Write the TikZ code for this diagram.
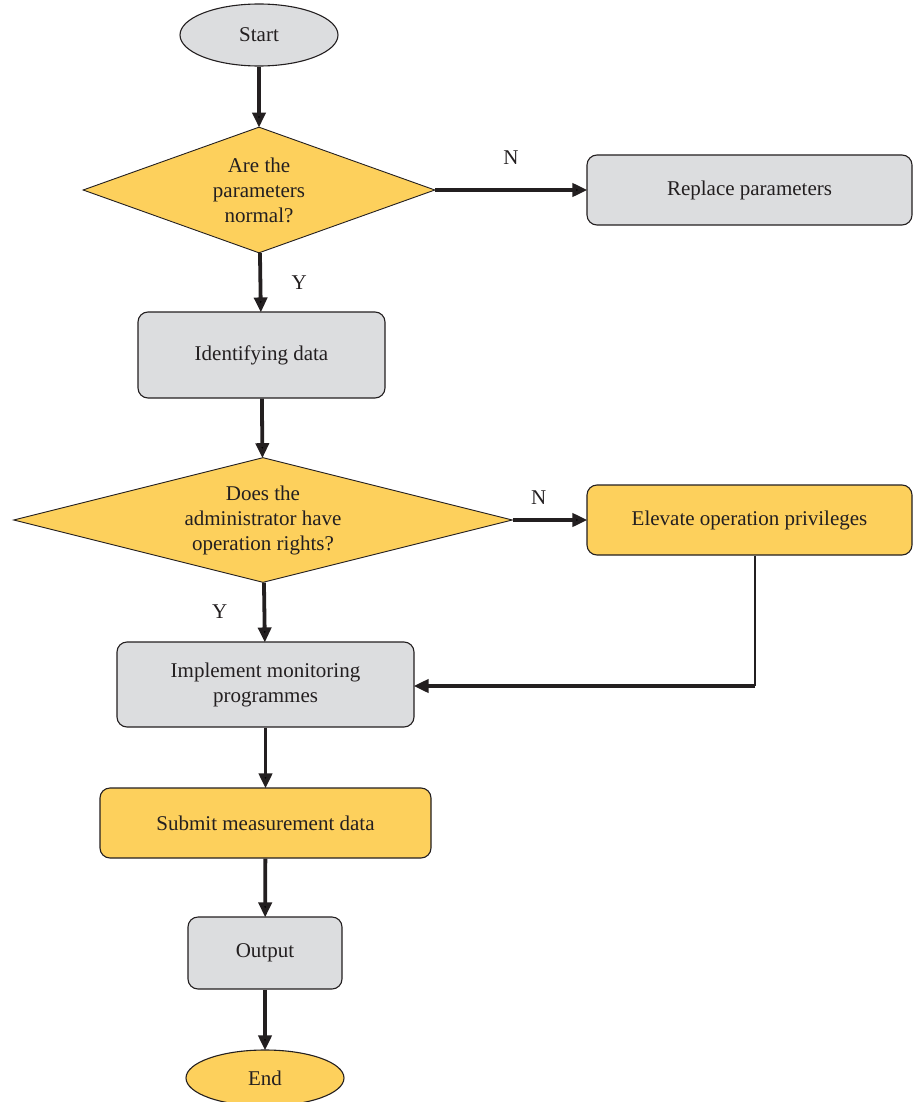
\documentclass[tikz,border=0pt]{standalone}
\usepackage{fontspec}
\setmainfont{Liberation Serif}
\usetikzlibrary{shapes.geometric,arrows.meta}
\definecolor{boxgray}{HTML}{DCDDDF}
\definecolor{boxyellow}{HTML}{FDD05C}
\definecolor{inkline}{HTML}{231F20}
\begin{document}
\begin{tikzpicture}
			[x=1pt,y=-1pt,
			every node/.style={font=\fontsize{21}{25}\selectfont,text=inkline},
			terminal/.style={ellipse,draw=inkline,line width=1.1pt,inner sep=0pt,minimum width=158pt},
			decision/.style={diamond,draw=inkline,line width=0.9pt,fill=boxyellow,inner sep=0pt,align=center},
			process/.style={rectangle,rounded corners=10pt,draw=inkline,line width=1.1pt,inner sep=0pt,align=center,minimum height=70pt},
			flow/.style={-{Triangle[length=15pt,width=13pt]},line width=3.8pt,draw=inkline,shorten >=-1pt}]
			\useasboundingbox (0,0) rectangle (913,1102);
			\node[terminal,fill=boxgray,minimum height=62pt] (start) at (259,35) {Start};
			\node[decision,minimum width=352pt,minimum height=126pt,aspect=2.8] (check) at (259,190) {Are the\\parameters\\normal?};
			\node[process,fill=boxgray,minimum width=325pt] (replace) at (749.5,190) {Replace parameters};
			\node[process,fill=boxgray,minimum width=247pt,minimum height=86pt] (identify) at (261.5,355) {Identifying data};
			\node[decision,minimum width=499pt,minimum height=125pt,aspect=4] (rights) at (263,520) {Does the\\administrator have\\operation rights?};
			\node[process,fill=boxyellow,minimum width=325pt] (elevate) at (749.5,520) {Elevate operation privileges};
			\node[process,fill=boxgray,minimum width=297pt,minimum height=85pt] (monitor) at (265.5,684.5) {Implement monitoring\\programmes};
			\node[process,fill=boxyellow,minimum width=331pt] (submit) at (265.5,823) {Submit measurement data};
			\node[process,fill=boxgray,minimum width=154pt,minimum height=72pt] (output) at (265,953) {Output};
			\node[terminal,fill=boxyellow,minimum height=56pt] (finish) at (265,1078) {End};
			\coordinate (bend) at (755,686);
			\path[flow]
			(start) edge (check)
			(check) edge node[midway,above=20pt] {N} (replace)
			(check) edge node[midway,right=26pt] {Y} (identify)
			(identify) edge (rights)
			(rights) edge node[pos=0.35,above=10pt] {N} (elevate)
			(rights) edge node[midway,left=32pt] {Y} (monitor)
			(monitor) edge (submit)
			(submit) edge (output)
			(output) edge (finish);
			\draw[inkline,line width=1.1pt] (elevate.south -| bend) -- (bend);
			\draw[flow] (bend) -- (bend -| monitor.east);
		\end{tikzpicture}
\end{document}
